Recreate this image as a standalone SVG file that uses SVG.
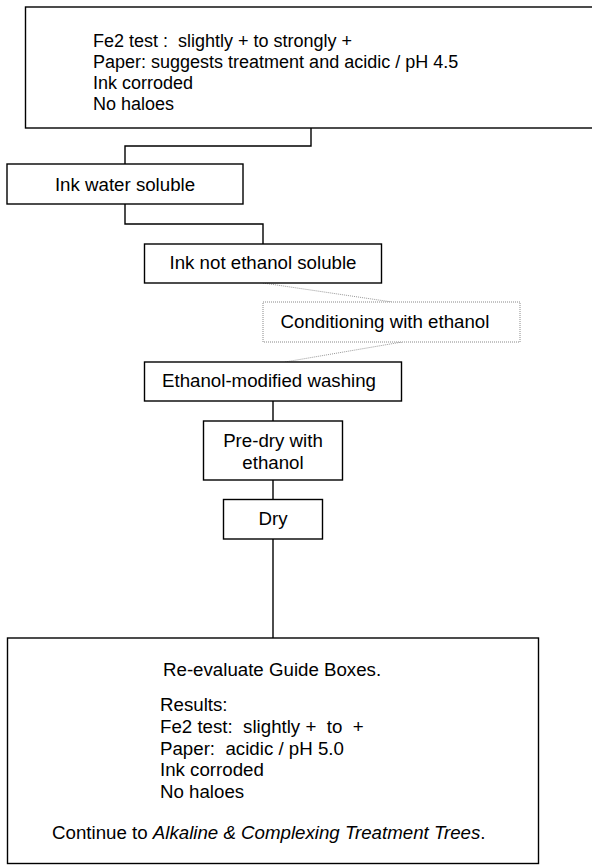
<svg xmlns="http://www.w3.org/2000/svg" width="592" height="865" viewBox="0 0 592 865">
<style>
.box{fill:#fff;stroke:#000;stroke-width:1.4}
.dbox{fill:#fff;stroke:#888;stroke-width:1;stroke-dasharray:1 1}
.t{font-family:"Liberation Sans",Arial,sans-serif;font-size:18.7px;fill:#000;white-space:pre}
.s{font-size:18px}
.c{text-anchor:middle}
.ln{fill:none;stroke:#000;stroke-width:1.4}
.dl{fill:none;stroke:#999;stroke-width:1;stroke-dasharray:1 1}
</style>
<rect width="592" height="865" fill="#fff"/>
<g id="connectors">
<polyline class="ln" points="311,128 311,146 125,146 125,164"/>
<polyline class="ln" points="125,204 125,224 263,224 263,244"/>
<line class="dl" x1="263" y1="283" x2="392" y2="302"/>
<line class="dl" x1="402" y1="342" x2="285" y2="362"/>
<line class="ln" x1="273" y1="401" x2="273" y2="421"/>
<line class="ln" x1="273" y1="480" x2="273" y2="499"/>
<line class="ln" x1="273" y1="539" x2="273" y2="638"/>
</g>
<g id="n1">
<rect class="box" x="25.5" y="7" width="580" height="121"/>
<text class="t s" x="93" y="46.5" xml:space="preserve">Fe2 test :  slightly + to strongly +</text>
<text class="t s" x="93" y="67.5">Paper: suggests treatment and acidic / pH 4.5</text>
<text class="t s" x="93" y="88.5">Ink corroded</text>
<text class="t s" x="93" y="109.5">No haloes</text>
</g>
<g id="n2">
<rect class="box" x="7" y="164" width="236" height="40"/>
<text class="t c" x="125" y="190.5">Ink water soluble</text>
</g>
<g id="n3">
<rect class="box" x="144.5" y="244" width="237" height="39"/>
<text class="t c" x="263" y="268.5">Ink not ethanol soluble</text>
</g>
<g id="n4">
<rect class="dbox" x="263" y="302" width="257" height="40"/>
<text class="t c" x="385" y="327.5">Conditioning with ethanol</text>
</g>
<g id="n5">
<rect class="box" x="144.5" y="362" width="257" height="39"/>
<text class="t c" x="269" y="386.7">Ethanol-modified washing</text>
</g>
<g id="n6">
<rect class="box" x="203.5" y="421" width="139" height="59"/>
<text class="t c" x="273" y="446.7">Pre-dry with</text>
<text class="t c" x="273" y="469.3">ethanol</text>
</g>
<g id="n7">
<rect class="box" x="223.5" y="499.5" width="99" height="39.5"/>
<text class="t c" x="273" y="525">Dry</text>
</g>
<g id="n8">
<rect class="box" x="7.5" y="638" width="531" height="225.5"/>
<text class="t" x="163" y="676">Re-evaluate Guide Boxes.</text>
<text class="t" x="160" y="710.5">Results:</text>
<text class="t" x="160" y="733" xml:space="preserve">Fe2 test:  slightly +  to  +</text>
<text class="t" x="160" y="755" xml:space="preserve">Paper:  acidic / pH 5.0</text>
<text class="t" x="160" y="776">Ink corroded</text>
<text class="t" x="160" y="797.5">No haloes</text>
<text class="t" x="52" y="839.3">Continue to <tspan font-style="italic">Alkaline &amp; Complexing Treatment Trees</tspan>.</text>
</g>
</svg>
